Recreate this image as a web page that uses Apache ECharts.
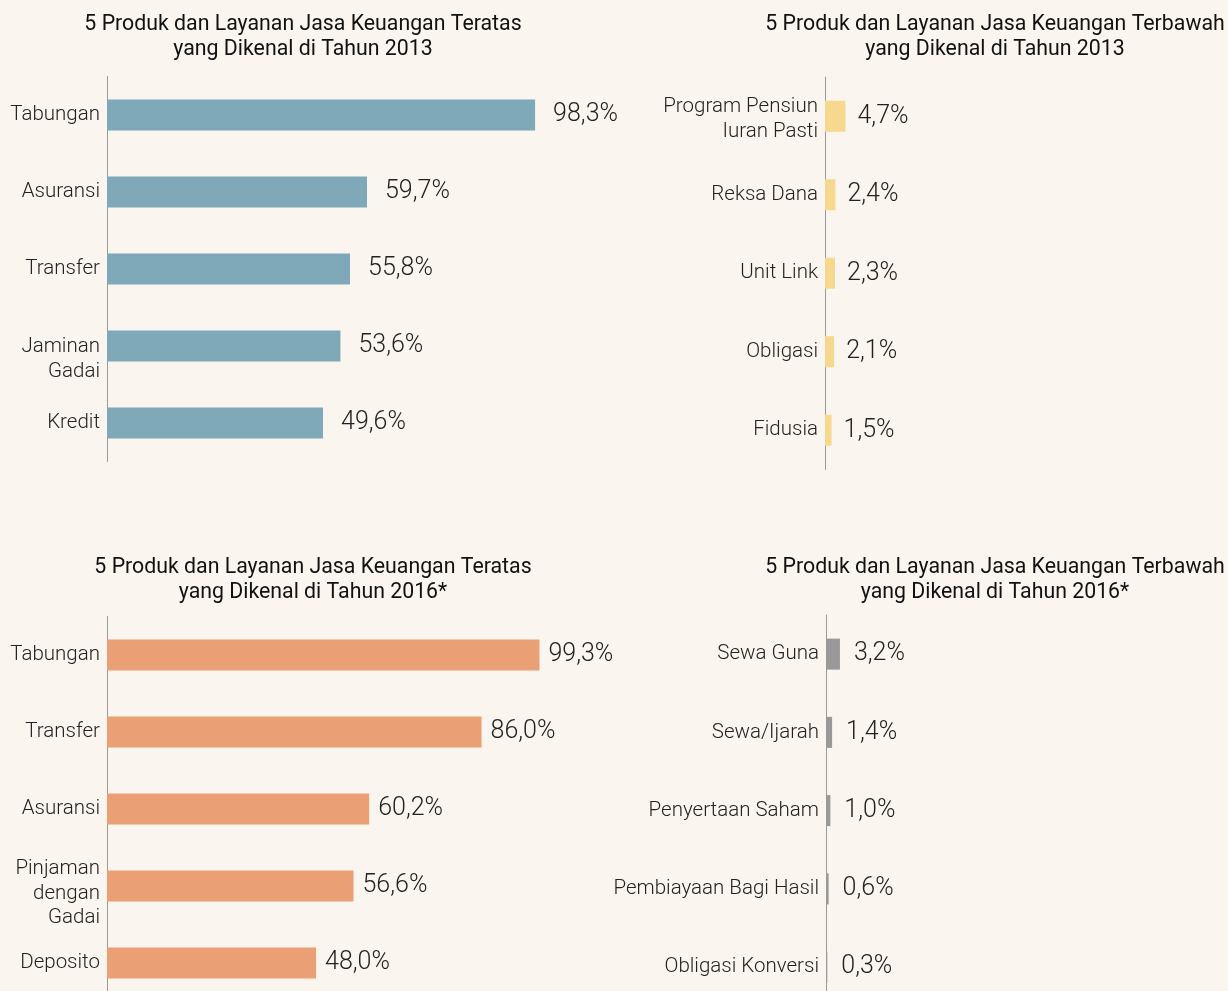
<!DOCTYPE html>
<html>
<head>
<meta charset="utf-8">
<script src="https://cdn.jsdelivr.net/npm/echarts@6/dist/echarts.min.js"></script>
<style>
  html, body { margin: 0; padding: 0; background: #faf5ef; overflow: hidden; }
  #chart { width: 1228px; height: 1010px; }
</style>
</head>
<body>
<div id="chart"></div>
<script>
// data
const top2013Names = ['Tabungan', 'Asuransi', 'Transfer', 'Jaminan\nGadai', 'Kredit']
const top2013Values = [98.3, 59.7, 55.8, 53.6, 49.6]
const bottom2013Names = ['Program Pensiun\nIuran Pasti', 'Reksa Dana', 'Unit Link', 'Obligasi', 'Fidusia']
const bottom2013Values = [4.7, 2.4, 2.3, 2.1, 1.5]
const top2016Names = ['Tabungan', 'Transfer', 'Asuransi', 'Pinjaman\ndengan\nGadai', 'Deposito']
const top2016Values = [99.3, 86.0, 60.2, 56.6, 48.0]
const bottom2016Names = ['Sewa Guna', 'Sewa/Ijarah', 'Penyertaan Saham', 'Pembiayaan Bagi Hasil', 'Obligasi Konversi']
const bottom2016Values = [3.2, 1.4, 1.0, 0.6, 0.3]

const titles = [
  '5 Produk dan Layanan Jasa Keuangan Teratas\nyang Dikenal di Tahun 2013',
  '5 Produk dan Layanan Jasa Keuangan Terbawah\nyang Dikenal di Tahun 2013',
  '5 Produk dan Layanan Jasa Keuangan Teratas\nyang Dikenal di Tahun 2016*',
  '5 Produk dan Layanan Jasa Keuangan Terbawah\nyang Dikenal di Tahun 2016*'
]

const fontFamily = 'Roboto'
const textColor = '#222'
const pxPerUnit = 4.355

// 多行标签：顶部加一行空白，把文字往下推
const labelPad = { 'Jaminan\nGadai': 'g2', 'Pinjaman\ndengan\nGadai': 'g3', 'Program Pensiun\nIuran Pasti': 'g1' }

const panels = [
  { names: top2013Names, values: top2013Values, color: '#7fa8b8', left: 107, top: 76.5, band: 77, max: 100, dist: 18, tx: 298, ty: 7 },
  { names: bottom2013Names, values: bottom2013Values, color: '#f6d98e', left: 825, top: 77, band: 78.5, max: 50, dist: 12, tx: 990, ty: 7 },
  { names: top2016Names, values: top2016Values, color: '#eb9f75', left: 107, top: 616.5, band: 77, max: 100, dist: 9, tx: 308, ty: 550 },
  { names: bottom2016Names, values: bottom2016Values, color: '#999999', left: 826, top: 615, band: 78.25, max: 50, dist: 14, tx: 990, ty: 550 }
]

const chart = echarts.init(document.getElementById('chart'))
chart.setOption({
  backgroundColor: '#faf5ef',
  animation: false,
  title: panels.map((p, i) => ({
    text: titles[i],
    left: p.tx,
    top: p.ty,
    textAlign: 'center',
    textStyle: { fontFamily, fontSize: 21.3, fontWeight: 400, color: '#111', lineHeight: 25 }
  })),
  grid: panels.map(p => ({
    left: p.left,
    top: p.top,
    width: p.max * pxPerUnit,
    height: p.band * 5
  })),
  xAxis: panels.map((p, i) => ({
    type: 'value',
    gridIndex: i,
    min: 0,
    max: p.max,
    show: false
  })),
  yAxis: panels.map((p, i) => ({
    type: 'category',
    gridIndex: i,
    inverse: true,
    data: p.names,
    axisLine: { show: true, lineStyle: { color: '#999', width: 1 } },
    axisTick: { show: false },
    axisLabel: {
      margin: 7,
      fontFamily,
      fontSize: 20.5,
      fontWeight: 300,
      color: textColor,
      lineHeight: 24.5,
      align: 'right',
      formatter: v => labelPad[v] ? `{${labelPad[v]}| }\n${v}` : v,
      rich: {
        g1: { lineHeight: 6.5, fontSize: 4 },
        g2: { lineHeight: 26.5, fontSize: 4 },
        g3: { lineHeight: 15, fontSize: 4 }
      }
    }
  })),
  series: panels.map((p, i) => ({
    type: 'bar',
    xAxisIndex: i,
    yAxisIndex: i,
    data: p.values,
    barWidth: 31,
    itemStyle: { color: p.color },
    label: {
      show: true,
      position: 'right',
      distance: p.dist,
      fontFamily,
      fontSize: 25,
      fontWeight: 300,
      color: textColor,
      formatter: ({ value }) => `${value.toFixed(1).replace('.', ',')}%`
    }
  }))
})
</script>
</body>
</html>
